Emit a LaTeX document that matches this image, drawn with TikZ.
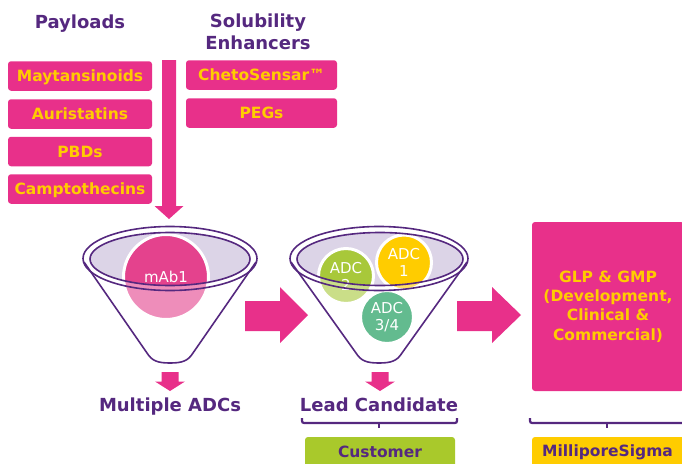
\documentclass[tikz,border=0pt]{standalone}
\usepackage{fontspec}
\setmainfont{DejaVu Sans}
\definecolor{mpink}{HTML}{E8308A}
\definecolor{mpurple}{HTML}{55287F}
\definecolor{myellow}{HTML}{FFCC00}
\definecolor{mlav}{HTML}{DCD4E7}
\definecolor{mlime}{HTML}{A9C92B}
\definecolor{mabpink}{HTML}{E4428D}
\definecolor{adcgreen}{HTML}{A8C83A}
\definecolor{adcteal}{HTML}{63BB8F}
\tikzset{
  pbox/.style={fill=mpink, rounded corners=3pt, text=myellow,
    font=\bfseries\fontsize{15.5}{18}\selectfont, text height=11.3pt,
    text depth=0pt, inner sep=0pt, minimum height=29.5pt},
  ttl/.style={text=mpurple, font=\bfseries\fontsize{18}{22}\selectfont, inner sep=0pt},
  subttl/.style={text=mpurple, font=\bfseries\fontsize{15.5}{18}\selectfont, inner sep=0pt},
  funnelline/.style={draw=mpurple, line width=1.6pt},
  ball/.style={circle, draw=white, line width=3pt, inner sep=0pt, text=white,
    font=\fontsize{15}{17}\selectfont, align=center},
  blockarrow/.style={fill=mpink},
  bracket/.style={draw=mpurple, line width=2.2pt, rounded corners=2pt},
}
\begin{document}
\begin{tikzpicture}[x=1pt,y=-1pt]
\useasboundingbox (0,0) rectangle (682,463);

% titles
\node[ttl, anchor=base] (tpay) at (80,28) {Payloads};
\node[ttl, align=center] (tsol) at (258,32.2) {Solubility\\Enhancers};

% payload boxes
\node[pbox, minimum width=144pt] (b1) at (80,76) {Maytansinoids};
\node[pbox, minimum width=144pt] (b2) at (80,114) {Auristatins};
\node[pbox, minimum width=144pt] (b3) at (80,151.5) {PBDs};
\node[pbox, minimum width=144pt] (b4) at (80,189) {Camptothecins};
\node[pbox, minimum width=151pt] (s1) at (261.5,75) {ChetoSensar™};
\node[pbox, minimum width=151pt] (s2) at (261.5,113) {PEGs};

% big down arrow
\fill[blockarrow] (162,60) -- (176,60) -- (176,206) -- (183.5,206) -- (169,219)
  -- (154.5,206) -- (162,206) -- cycle;

% ---- funnel 1
\fill[mlav] (170,259) ellipse [x radius=80pt, y radius=26.5pt];
\node[ball, fill=mabpink, minimum size=85pt] (mab) at (166,277) {mAb1};
\fill[white, opacity=0.4, even odd rule]
  (80,222) -- (80,260) -- (84,262) -- (147,353) .. controls (152,361) and (158,363) .. (170,363)
  .. controls (182,363) and (188,361) .. (193,353) -- (256,262) -- (260,260) -- (260,222) -- cycle
  (170,259) ellipse [x radius=80pt, y radius=26.5pt];
\draw[funnelline] (84,262) -- (147,353) .. controls (152,361) and (158,363) .. (170,363)
  .. controls (182,363) and (188,361) .. (193,353) -- (256,262);
\draw[funnelline] (170,258.5) ellipse [x radius=87pt, y radius=32pt];
\draw[funnelline] (170,259) ellipse [x radius=80pt, y radius=26.5pt];

% ---- funnel 2
\fill[mlav] (380,259) ellipse [x radius=83pt, y radius=26.5pt];
\node[ball, fill=adcgreen, minimum size=55pt] (adc2) at (346,276) {ADC\\2};
\node[ball, fill=myellow, minimum size=55pt] (adc1) at (404,262.5) {ADC\\1};
\fill[white, opacity=0.4, even odd rule]
  (288,222) -- (288,260) -- (291,262) -- (356,353) .. controls (361,361) and (367,363) .. (379,363)
  .. controls (391,363) and (397,361) .. (402,353) -- (467,262) -- (470,260) -- (470,222) -- cycle
  (380,259) ellipse [x radius=83pt, y radius=26.5pt];
\node[ball, fill=adcteal, minimum size=53pt] (adc34) at (387,317) {ADC\\3/4};
\draw[funnelline] (291,262) -- (356,353) .. controls (361,361) and (367,363) .. (379,363)
  .. controls (391,363) and (397,361) .. (402,353) -- (467,262);
\draw[funnelline] (379,258.5) ellipse [x radius=89pt, y radius=32pt];
\draw[funnelline] (380,259) ellipse [x radius=83pt, y radius=26.5pt];

% right block arrows
\fill[blockarrow] (245,301) -- (280,301) -- (280,287) -- (308,315) -- (280,343)
  -- (280,331) -- (245,331) -- cycle;
\fill[blockarrow] (457,301) -- (492,301) -- (492,287) -- (521,315) -- (492,343)
  -- (492,331) -- (457,331) -- cycle;

% small down arrows
\fill[blockarrow] (161.5,372) -- (178.5,372) -- (178.5,381.5) -- (185,381.5) -- (170,391)
  -- (155,381.5) -- (161.5,381.5) -- cycle;
\fill[blockarrow] (371.5,372) -- (388.5,372) -- (388.5,381.5) -- (395,381.5) -- (380,391)
  -- (365,381.5) -- (371.5,381.5) -- cycle;

% labels
\node[ttl, anchor=base] (lmult) at (170,411) {Multiple ADCs};
\node[ttl, anchor=base] (llead) at (379,411) {Lead Candidate};

% GLP box
\node[fill=mpink, rounded corners=3pt, minimum width=152pt, minimum height=169pt,
  inner sep=0pt, text=myellow, align=center,
  font=\bfseries\fontsize{15.5}{19.3}\selectfont] (glp) at (608,306.5)
  {GLP \& GMP\\(Development,\\Clinical \&\\Commercial)};

% brackets
\draw[bracket] (302,418) |- (379,423) -| (457,418);
\draw[bracket] (379,423) -- (379,428);
\draw[bracket] (530,418) |- (690,423);
\draw[bracket] (607,423) -- (607,428);

% bottom boxes
\fill[mlime, rounded corners=3pt] (305,437) rectangle (455,472);
\node[subttl, anchor=base] (cust) at (380,457) {Customer};
\fill[myellow, rounded corners=3pt] (532,437) rectangle (690,472);
\node[subttl, anchor=base] (msig) at (607.5,456) {MilliporeSigma};
\end{tikzpicture}
\end{document}
